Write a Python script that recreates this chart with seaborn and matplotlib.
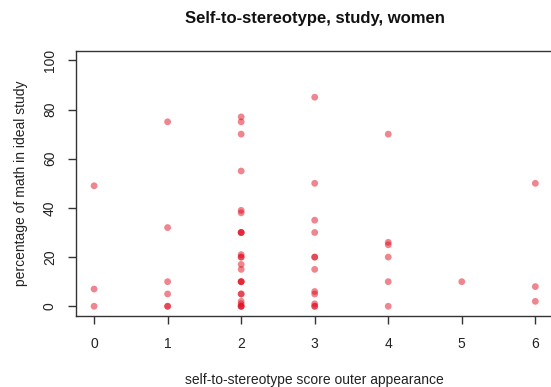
import matplotlib
matplotlib.use("Agg")
import matplotlib.pyplot as plt
import seaborn as sns
import pandas as pd

# Self-to-stereotype score (outer appearance) and percentage of math in ideal study
score = [0, 0, 0,
         1, 1, 1, 1, 1, 1,
         2, 2, 2, 2, 2, 2, 2, 2, 2, 2, 2, 2, 2, 2, 2, 2, 2, 2, 2, 2, 2, 2, 2, 2,
         3, 3, 3, 3, 3, 3, 3, 3, 3, 3, 3, 3,
         4, 4, 4, 4, 4, 4,
         5,
         6, 6, 6]
math_pct = [49, 7, 0,
            75, 32, 10, 5, 0, 0,
            77, 75, 70, 55, 39, 38, 30, 30, 30, 21, 20, 20, 17, 15, 10, 10, 10, 5, 5, 2, 1, 0, 0, 0,
            85, 50, 35, 30, 20, 20, 15, 6, 5, 1, 0, 0,
            70, 26, 25, 20, 10, 0,
            10,
            50, 8, 2]

x_ticks = [0, 1, 2, 3, 4, 5, 6]
y_ticks = [0, 20, 40, 60, 80, 100]

df = pd.DataFrame({"score": score, "math": math_pct})

sns.set_style("white")
plt.rcParams["font.family"] = ["Liberation Sans", "DejaVu Sans"]

fig = plt.figure(figsize=(5.51, 3.87), dpi=100)
ax = fig.add_axes([0.1387, 0.1832, 0.8649, 0.6863])

sns.scatterplot(data=df, x="score", y="math", ax=ax,
                color=(0.88, 0.05, 0.12), alpha=0.5, s=24,
                edgecolor="none", linewidth=0)

ax.set_xlim(-0.24, 6.24)
ax.set_ylim(-4, 104)
ax.set_xticks(x_ticks)
ax.set_yticks(y_ticks)
ax.set_xticklabels([str(v) for v in x_ticks])
ax.set_yticklabels([str(v) for v in y_ticks], rotation=90, va="center")

# Box frame; the right edge falls just past the figure border
for side in ["left", "bottom", "top"]:
    ax.spines[side].set_visible(True)
    ax.spines[side].set_color("#333333")
    ax.spines[side].set_linewidth(1.0)
ax.spines["right"].set_visible(False)

ax.tick_params(axis="both", direction="out", length=6, width=1, color="#333333",
               labelsize=10, labelcolor="#222222", bottom=True, left=True)
ax.tick_params(axis="x", pad=9)
ax.tick_params(axis="y", pad=8)

ax.set_xlabel("self-to-stereotype score outer appearance", fontsize=10,
              color="#222222", labelpad=16)
ax.set_ylabel("percentage of math in ideal study", fontsize=10,
              color="#222222", labelpad=11)
ax.set_title("Self-to-stereotype, study, women", fontsize=12,
             fontweight="bold", color="#111111", pad=20)

fig.savefig("out.png", dpi=100)
